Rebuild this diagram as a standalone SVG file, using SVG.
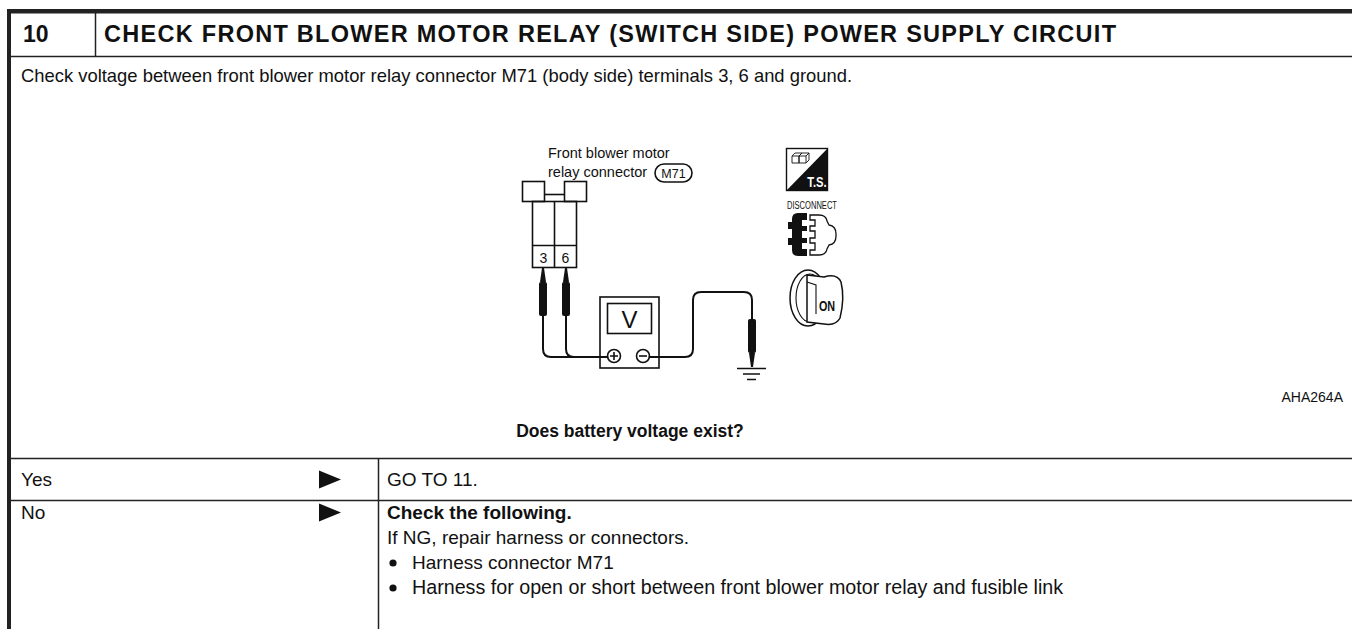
<svg xmlns="http://www.w3.org/2000/svg" width="1352" height="629" viewBox="0 0 1352 629">
  <style>
    .t { font-family: "Liberation Sans", Arial, sans-serif; fill: #111; }
    .b { font-weight: bold; }
    .rule { stroke: #222; fill: none; }
    .wire { stroke: #111; stroke-width: 2; fill: none; stroke-linecap: round; stroke-linejoin: round; }
    .ln { stroke: #111; stroke-width: 1.6; fill: none; }
  </style>
  <defs>
    <!-- test probe: tapered tip + black grip -->
    <g id="probe">
      <path d="M -1 0 L 1 0 L 3 14 L -3 14 Z" fill="#111"/>
      <rect x="-4" y="14" width="8" height="34" rx="2" fill="#111"/>
    </g>
  </defs>

  <rect width="1352" height="629" fill="#fff"/>

  <!-- table frame -->
  <g id="table">
    <rect x="7" y="9" width="1345" height="4.5" fill="#222"/>
    <rect x="7" y="9" width="4" height="620" fill="#222"/>
    <line class="rule" x1="95.5" y1="13" x2="95.5" y2="56" stroke-width="1.5"/>
    <line class="rule" x1="11" y1="56.5" x2="1352" y2="56.5" stroke-width="1.6"/>
    <line class="rule" x1="11" y1="458.5" x2="1352" y2="458.5" stroke-width="1.6"/>
    <line class="rule" x1="11" y1="500.5" x2="1352" y2="500.5" stroke-width="1.6"/>
    <line class="rule" x1="378.5" y1="458" x2="378.5" y2="629" stroke-width="1.5"/>
  </g>

  <g id="header">
    <text class="t b" x="23" y="42" font-size="23">10</text>
    <text class="t b" x="104" y="42" font-size="23.5" textLength="1012" lengthAdjust="spacing">CHECK FRONT BLOWER MOTOR RELAY (SWITCH SIDE) POWER SUPPLY CIRCUIT</text>
  </g>

  <g id="instruction">
    <text class="t" x="21" y="82" font-size="18.4">Check voltage between front blower motor relay connector M71 (body side) terminals 3, 6 and ground.</text>
  </g>

  <!-- connector M71 with labels -->
  <g id="connector">
    <text class="t" x="548" y="158" font-size="14.5">Front blower motor</text>
    <text class="t" x="548" y="177" font-size="14.5">relay connector</text>
    <rect x="655" y="164" width="37" height="18" rx="9" ry="9" class="ln" stroke-width="1.3"/>
    <text class="t" x="673.5" y="178" font-size="12.5" text-anchor="middle">M71</text>

    <rect x="522.5" y="181.5" width="22" height="20" class="ln"/>
    <rect x="564.5" y="181.5" width="22" height="20" class="ln"/>
    <line class="ln" x1="544.5" y1="194.5" x2="564.5" y2="194.5"/>
    <rect x="532.5" y="201.5" width="44" height="66" class="ln"/>
    <line class="ln" x1="554.5" y1="201.5" x2="554.5" y2="267.5"/>
    <line class="ln" x1="532.5" y1="245.5" x2="576.5" y2="245.5"/>
    <text class="t" x="543.5" y="263" font-size="14" text-anchor="middle">3</text>
    <text class="t" x="565.5" y="263" font-size="14" text-anchor="middle">6</text>
  </g>

  <!-- voltmeter -->
  <g id="voltmeter">
    <rect x="600" y="297" width="59" height="71" class="ln"/>
    <rect x="607.5" y="303.5" width="44" height="30" class="ln"/>
    <text class="t" x="629.5" y="328" font-size="24" text-anchor="middle">V</text>
    <circle cx="614" cy="356" r="6.5" class="ln" stroke-width="1.4"/>
    <path d="M 610 356 H 618 M 614 352 V 360" class="ln" stroke-width="1.4"/>
    <circle cx="643" cy="356" r="6.5" class="ln" stroke-width="1.4"/>
    <path d="M 639 356 H 647" class="ln" stroke-width="1.4"/>
  </g>

  <!-- ground symbol -->
  <g id="ground">
    <path d="M 737 368.5 H 766 M 743 374 H 760 M 747 379.5 H 756" class="ln" stroke-width="2"/>
  </g>

  <!-- probes and leads -->
  <g id="connectors">
    <use href="#probe" x="543" y="268"/>
    <use href="#probe" x="566" y="268"/>
    <path class="wire" d="M 543 316 V 349 Q 543 357 551 357 H 607.5"/>
    <path class="wire" d="M 566 316 V 349 Q 566 357 574 357"/>
    <path class="wire" d="M 649.5 357 H 685 Q 693 357 693 349 V 300 Q 693 292 701 292 H 744 Q 752 292 752 300 V 301"/>
    <g transform="translate(752 367) rotate(180)">
      <use href="#probe" x="0" y="0"/>
      <path d="M 0 48 V 66" class="wire"/>
    </g>
  </g>

  <!-- test-condition icons -->
  <g id="icon-ts">
    <rect x="786.5" y="148.5" width="41" height="42" fill="#fff" stroke="#111" stroke-width="1.4"/>
    <path d="M 786.5 190.5 L 827.5 148.5 V 190.5 Z" fill="#111"/>
    <path d="M 792 156 h 7 v 7 h -7 z M 799 156 h 7 v 7 h -7 z M 792 156 l 3 -3 h 7 l -3 3 M 799 156 l 3 -3 h 7 l -3 3 M 809 153 v 7 l -3 3" fill="none" stroke="#111" stroke-width="0.9"/>
    <text x="817" y="187" font-family="Liberation Sans, Arial, sans-serif" font-size="14" font-weight="bold" fill="#fff" text-anchor="middle" transform="translate(817 0) scale(0.8 1) translate(-817 0)">T.S.</text>
  </g>

  <g id="icon-disconnect">
    <text x="812" y="209" font-family="Liberation Sans Narrow, Liberation Sans, Arial, sans-serif" font-size="10" fill="#111" text-anchor="middle" textLength="50" lengthAdjust="spacingAndGlyphs">DISCONNECT</text>
    <path d="M 807 213 H 798 Q 792 213 792 219 V 222 H 788 V 229 H 792 V 238 H 788 V 245 H 792 V 250 Q 792 256 798 256 H 807 V 249 H 802 V 243 H 807 V 238 H 802 V 231 H 807 V 226 H 802 V 220 H 807 Z" fill="#111"/>
    <path d="M 810 215 H 819 Q 826 215 827 221 L 829 225 Q 836 226 836 234 V 236 Q 836 244 829 245 L 827 249 Q 826 255 819 255 H 810 V 250 H 815 V 243 H 810 V 238 H 815 V 231 H 810 V 226 H 815 V 220 H 810 Z" fill="#fff" stroke="#111" stroke-width="1.3"/>
  </g>

  <g id="icon-ignition">
    <ellipse cx="808" cy="298" rx="18" ry="28" fill="#fff" stroke="#111" stroke-width="1.5"/>
    <ellipse cx="810" cy="298" rx="14" ry="24" fill="none" stroke="#111" stroke-width="1.1"/>
    <path d="M 807 275 L 824 277 Q 837 273 841 282 Q 845 298 840 318 Q 836 326 824 324 L 807 322 Z" fill="#fff" stroke="#111" stroke-width="1.5"/>
    <path d="M 807 282 L 816 285 V 314" fill="none" stroke="#111" stroke-width="1.1"/>
    <text x="827" y="311" font-family="Liberation Sans, Arial, sans-serif" font-size="15" font-weight="bold" fill="#111" text-anchor="middle" transform="translate(827 0) scale(0.72 1) translate(-827 0)">ON</text>
  </g>

  <g id="figure-code">
    <text class="t" x="1343" y="402" font-size="14" text-anchor="end">AHA264A</text>
  </g>

  <g id="question">
    <text class="t b" x="630" y="437" font-size="17.5" text-anchor="middle">Does battery voltage exist?</text>
  </g>

  <g id="row-yes">
    <text class="t" x="21" y="486" font-size="19">Yes</text>
    <polygon points="319,470.5 341,479.5 319,488.5" fill="#111"/>
    <text class="t" x="387" y="486" font-size="19">GO TO 11.</text>
  </g>

  <g id="row-no">
    <text class="t" x="21" y="519" font-size="19">No</text>
    <polygon points="319,503.5 341,512.5 319,521.5" fill="#111"/>
    <text class="t b" x="387" y="519" font-size="19">Check the following.</text>
    <text class="t" x="387" y="544" font-size="19">If NG, repair harness or connectors.</text>
    <circle cx="393" cy="563" r="3.6" fill="#111"/>
    <text class="t" x="412" y="569" font-size="19">Harness connector M71</text>
    <circle cx="393" cy="588" r="3.6" fill="#111"/>
    <text class="t" x="412" y="594" font-size="19.7">Harness for open or short between front blower motor relay and fusible link</text>
  </g>
</svg>
